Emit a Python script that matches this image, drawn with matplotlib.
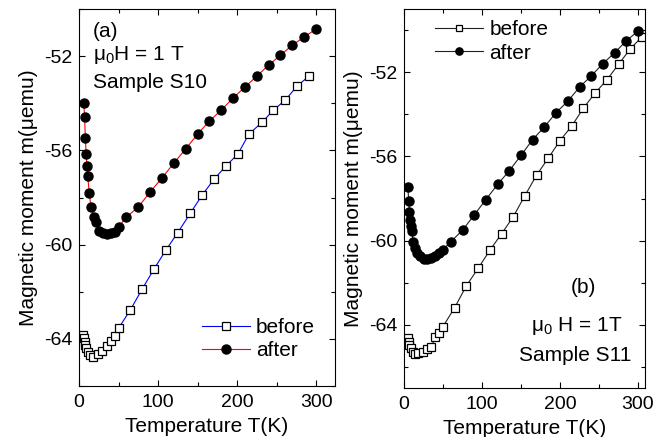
import matplotlib
matplotlib.use("Agg")
import matplotlib.pyplot as plt
from matplotlib.ticker import MultipleLocator

plt.rcParams['font.family'] = ['Liberation Sans', 'DejaVu Sans']
plt.rcParams['mathtext.fontset'] = 'custom'
plt.rcParams['mathtext.rm'] = 'Liberation Sans'
plt.rcParams['mathtext.it'] = 'Liberation Sans:italic'
plt.rcParams['axes.unicode_minus'] = False

# ---- Panel (a): Sample S10 ----
a_after_T = [6, 7, 8, 9, 10, 11, 13, 15, 19, 21, 25, 30, 35, 40, 45, 50, 60,
             75, 90, 105, 120, 135, 150, 165, 180, 195, 210, 225, 240, 255, 270, 285, 300]
a_after_m = [-53.98, -54.57, -55.46, -56.16, -56.65, -57.09, -57.82, -58.39, -58.82,
             -59.05, -59.42, -59.52, -59.57, -59.50, -59.45, -59.25, -58.83,
             -58.40, -57.77, -57.17, -56.54, -55.94, -55.31, -54.76, -54.29, -53.78,
             -53.31, -52.85, -52.38, -51.96, -51.53, -51.19, -50.85]
a_before_T = [5, 6, 7, 8, 9, 11, 14, 18, 24, 29, 35, 40, 45, 50,
              65, 80, 95, 110, 125, 141, 156, 171, 186, 201, 215, 232, 246, 261, 276, 291]
a_before_m = [-63.83, -63.97, -64.12, -64.26, -64.40, -64.54, -64.68, -64.75, -64.65,
              -64.50, -64.32, -64.09, -63.88, -63.55,
              -62.77, -61.88, -61.03, -60.23, -59.49, -58.66, -57.89, -57.22, -56.66,
              -56.16, -55.31, -54.80, -54.29, -53.87, -53.27, -52.85]

# ---- Panel (b): Sample S11 ----
b_after_T = [5, 6, 7, 8, 9, 10, 12, 14, 17, 20, 25, 30, 35, 40, 45, 50, 60,
             75, 90, 105, 120, 135, 150, 165, 180, 195, 210, 225, 240, 255, 270, 285, 300]
b_after_m = [-57.46, -58.13, -58.65, -59.00, -59.29, -59.56, -60.08, -60.35, -60.60,
             -60.75, -60.87, -60.88, -60.84, -60.75, -60.60, -60.43, -60.05,
             -59.51, -58.78, -58.05, -57.33, -56.68, -55.95, -55.20, -54.60, -53.92,
             -53.38, -52.71, -52.18, -51.59, -51.08, -50.51, -50.05]
b_before_T = [5, 6, 7, 9, 11, 14, 18, 24, 30, 35, 40, 45, 50,
              65, 80, 95, 110, 125, 140, 155, 170, 185, 200, 215, 230, 245, 260, 275, 290, 305]
b_before_m = [-64.63, -64.80, -64.95, -65.11, -65.27, -65.38, -65.35, -65.27, -65.16,
              -65.05, -64.59, -64.40, -64.08,
              -63.18, -62.14, -61.32, -60.46, -59.68, -58.87, -57.86, -56.89, -56.08,
              -55.25, -54.56, -53.71, -52.99, -52.37, -51.63, -50.90, -50.32]

xlabel = 'Temperature T(K)'
ylabel = 'Magnetic moment m(μemu)'
yticks = [-64, -60, -56, -52]
xticks = [0, 100, 200, 300]

fig = plt.figure(figsize=(6.68, 4.37), dpi=100)
axA = fig.add_axes([0.1183, 0.1167, 0.3832, 0.8627])
axB = fig.add_axes([0.6048, 0.1121, 0.3608, 0.8673])

FS = 15
TFS = 14

def style(ax, xmax, ylim):
    ax.set_xlim(0, xmax)
    ax.set_ylim(*ylim)
    ax.set_xticks(xticks)
    ax.set_yticks(yticks)
    ax.xaxis.set_minor_locator(MultipleLocator(50))
    ax.yaxis.set_minor_locator(MultipleLocator(2))
    ax.tick_params(which='both', direction='in', top=True, right=True, width=0.8)
    ax.tick_params(which='major', length=4, labelsize=TFS)
    ax.tick_params(axis='x', which='major', pad=6)
    ax.tick_params(axis='y', which='major', pad=5)
    ax.tick_params(which='minor', length=3)
    for s in ax.spines.values():
        s.set_linewidth(0.8)
    ax.set_xlabel(xlabel, fontsize=FS, labelpad=4)
    ax.set_ylabel(ylabel, fontsize=FS, labelpad=4)

# Panel (a)
axA.plot(a_before_T, a_before_m, color='blue', lw=0.8, marker='s', ms=5.5,
         mfc='white', mec='black', mew=0.9, label='before')
axA.plot(a_after_T, a_after_m, color='red', lw=0.8, marker='o', ms=6.5,
         mfc='black', mec='black', label='after')
style(axA, 324, (-66, -50))
axA.legend(loc='upper left', bbox_to_anchor=(0.48, 0.18), frameon=False,
           fontsize=FS, handlelength=2.3, handletextpad=0.3, borderpad=0,
           borderaxespad=0, labelspacing=0.2)
axA.text(0.055, 0.939, '(a)', transform=axA.transAxes, fontsize=FS, va='center')
axA.text(0.055, 0.878, 'μ$_0$H = 1 T', transform=axA.transAxes, fontsize=FS, va='center')
axA.text(0.055, 0.806, 'Sample S10', transform=axA.transAxes, fontsize=FS, va='center')

# Panel (b)
axB.plot(b_before_T, b_before_m, color='#222222', lw=0.8, marker='s', ms=5.5,
         mfc='white', mec='black', mew=0.9, label='before')
axB.plot(b_after_T, b_after_m, color='#222222', lw=0.8, marker='o', ms=6.5,
         mfc='black', mec='black', label='after')
style(axB, 309, (-67, -49))
axB.legend(loc='upper left', bbox_to_anchor=(0.13, 0.97), frameon=False,
           fontsize=FS, handlelength=2.3, handletextpad=0.3, borderpad=0,
           borderaxespad=0, labelspacing=0.2, markerscale=0.8)
axB.text(0.743, 0.264, '(b)', transform=axB.transAxes, fontsize=FS, va='center', ha='center')
axB.text(0.718, 0.164, 'μ$_0$ H = 1T', transform=axB.transAxes, fontsize=FS, va='center', ha='center')
axB.text(0.71, 0.087, 'Sample S11', transform=axB.transAxes, fontsize=FS, va='center', ha='center')

fig.savefig('out.png', dpi=100)
